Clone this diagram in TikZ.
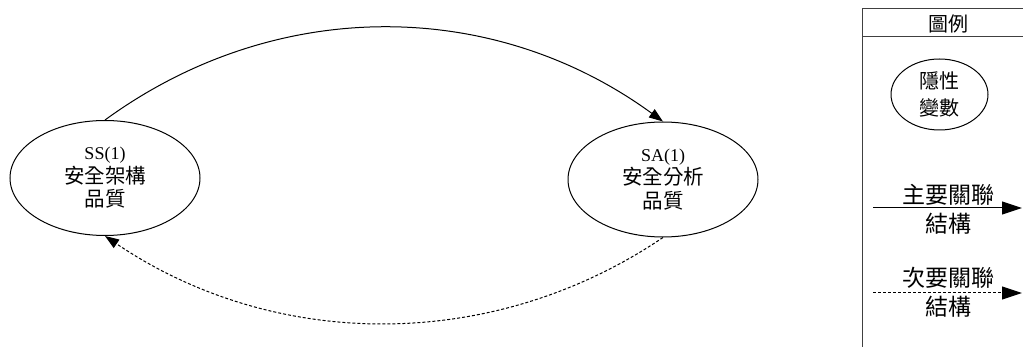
\documentclass[tikz,border=0pt]{standalone}
\usepackage{fontspec}
\setmainfont{Liberation Serif}
\newfontfamily\cjk{Noto Sans CJK TC}
\usetikzlibrary{arrows.meta,shapes.geometric}

\begin{document}
\begin{tikzpicture}[
  x=1pt, y=-1pt,
  font=\cjk\fontsize{20.5}{23.5}\selectfont,
  latent/.style={
    draw,
    ellipse,
    line width=1pt,
    inner sep=0pt,
    minimum width=190pt,
    minimum height=115pt,
    align=center
  },
  smalllatent/.style={
    latent,
    minimum width=97pt,
    minimum height=71pt,
    font=\cjk\fontsize{20}{27}\selectfont
  },
  mainrel/.style={
    -{Triangle[length=14pt,width=10pt]},
    line width=1pt
  },
  minorrel/.style={
    mainrel,
    dash pattern=on 3pt off 2pt
  },
  legarrow/.style={
    -{Triangle[length=20pt,width=13pt]},
    line width=1pt
  },
  legframe/.style={
    line width=1pt,
    draw=black!75
  },
  leglabel/.style={
    align=center,
    inner sep=0pt,
    font=\cjk\fontsize{23}{29}\selectfont
  }
]
\useasboundingbox (0,0) rectangle (1023,347);

% latent variables
\node[latent] (ss) at (105,178) {{\rmfamily\fontsize{18}{23.5}\selectfont SS(1)}\\安全架構\\品質};
\node[latent] (sa) at (663,179.5) {{\rmfamily\fontsize{18}{23.5}\selectfont SA(1)}\\安全分析\\品質};

% relations
\draw[mainrel] (ss.north) .. controls +(170,-124) and +(-170,-124) .. (sa.north);
\draw[minorrel] (sa.south) .. controls +(-170,115) and +(170,115) .. (ss.south);

% legend
\draw[legframe] (862,347) -- (862,9) -- (1030,9);
\draw[legframe] (862,37) -- (1030,37);
\node[inner sep=0pt, font=\cjk\fontsize{20}{24}\selectfont] (legtitle) at (948,24) {圖例};

\node[smalllatent] (legvar) at (939.5,94.5) {隱性\\變數};

\coordinate (mainfrom) at (873,208);
\coordinate (mainto) at (1022,208);
\draw[legarrow] (mainfrom) -- (mainto);
\node[leglabel] (mainlbl) at (948,209.5) {主要關聯\\結構};

\coordinate (minorfrom) at (873,293);
\coordinate (minorto) at (1022,293);
\draw[legarrow, dash pattern=on 3pt off 2pt] (minorfrom) -- (minorto);
\node[leglabel] (minorlbl) at (948,292.5) {次要關聯\\結構};

\end{tikzpicture}
\end{document}
